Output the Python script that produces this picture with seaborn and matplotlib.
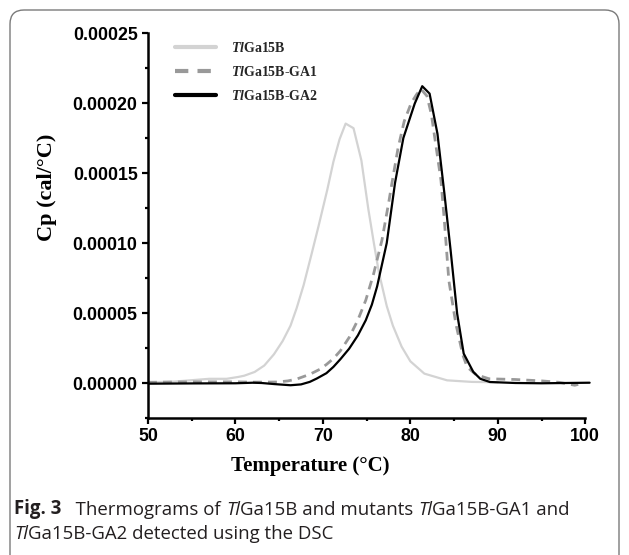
import numpy as np
import pandas as pd
import matplotlib
matplotlib.use("Agg")
import matplotlib.pyplot as plt
import seaborn as sns
from matplotlib.patches import FancyBboxPatch
from matplotlib.transforms import IdentityTransform
from matplotlib.ticker import MultipleLocator, FormatStrFormatter

# ---- data ----
temp_wt = [50, 53, 55, 57, 59, 60.3, 61, 62.2, 63.3, 64.4, 65.4, 66.3, 67.0, 67.8, 68.7, 69.5,
           70.5, 71.2, 71.9, 72.6, 73.5, 74.4, 75.2, 75.8, 76.4, 77.3, 78.0, 79.0, 80.0, 81.6,
           84.2, 87.0, 90.0]
cp_wt = [0.5e-6, 1.0e-6, 2.0e-6, 3.0e-6, 3.0e-6, 4.3e-6, 5.2e-6, 7.9e-6, 12.5e-6, 20.5e-6, 30e-6,
         41e-6, 53.5e-6, 70e-6, 92e-6, 112e-6, 138e-6, 158e-6, 174e-6, 185.3e-6, 182e-6,
         159e-6, 124e-6, 101e-6, 79e-6, 55e-6, 41e-6, 26e-6, 15.5e-6, 6.7e-6, 1.9e-6,
         0.8e-6, 0.5e-6]

temp_ga1 = [50, 55, 60, 62, 64.8, 66, 67, 68.5, 69.65, 70.4, 71.2, 72.0, 73.0, 74.0, 74.9, 75.8,
            76.75, 77.5, 77.9, 78.6, 79.3, 80.1, 80.7, 81.2, 81.9, 82.4, 83.5, 83.9, 84.4, 85.2,
            86.0, 86.5, 87.5, 89.0, 92.0, 95.0, 97.0, 98.8, 99.2]
cp_ga1 = [0.5e-6, 0.8e-6, 0.8e-6, 0.6e-6, 0.7e-6, 1.5e-6, 2.8e-6, 6.2e-6, 9.8e-6, 13.2e-6, 17.4e-6,
          23e-6, 32.5e-6, 45e-6, 59.1e-6, 78e-6, 102e-6, 128e-6, 143e-6, 168e-6, 187e-6, 200e-6,
          206e-6, 210e-6, 205e-6, 192e-6, 144.8e-6, 115e-6, 73.3e-6, 42.4e-6, 20e-6, 11.4e-6,
          6.0e-6, 3.0e-6, 2.5e-6, 1.5e-6, 0.5e-6, -1.6e-6, -1.0e-6]

temp_ga2 = [50, 55, 60, 62, 63, 64.5, 66.3, 67.5, 68.5, 69.3, 70.4, 71.2, 72.0, 73.0, 74.0, 74.9,
            75.6, 76.2, 77.3, 78.25, 79.2, 80.5, 81.36, 82.2, 83.1, 83.9, 84.6, 85.35, 86.1, 87.2,
            88.0, 89.1, 92.0, 95.0, 100.5]
cp_ga2 = [-0.5e-6, -0.3e-6, -0.2e-6, 0.2e-6, 0.0, -0.8e-6, -1.6e-6, -1.0e-6, 0.8e-6, 3.2e-6,
          7.0e-6, 11.5e-6, 17e-6, 24.5e-6, 34e-6, 44.8e-6, 56e-6, 69e-6, 100e-6, 143e-6,
          175e-6, 199.6e-6, 212e-6, 206.7e-6, 178e-6, 135e-6, 95e-6, 49.6e-6, 21e-6, 7.9e-6,
          3.0e-6, 0.7e-6, 0.0, -0.2e-6, 0.2e-6]

series_names = [r"$\mathbfit{Tl}$Ga15B", r"$\mathbfit{Tl}$Ga15B-GA1", r"$\mathbfit{Tl}$Ga15B-GA2"]
x_ticks = [50, 60, 70, 80, 90, 100]
y_ticks = [0.0, 0.00005, 0.00010, 0.00015, 0.00020, 0.00025]

# ---- style ----
sns.set_theme(style="ticks")
plt.rcParams["font.family"] = ["Liberation Sans", "DejaVu Sans"]
plt.rcParams["mathtext.fontset"] = "custom"
plt.rcParams["mathtext.rm"] = "Liberation Serif:bold"
plt.rcParams["mathtext.it"] = "Liberation Serif:italic:bold"
try:
    plt.rcParams["mathtext.bfit"] = "Liberation Serif:italic:bold"
except KeyError:
    pass

fig = plt.figure(figsize=(6.29, 5.55), dpi=100)
fig.patch.set_facecolor("white")

# rounded frame around the figure
frame = FancyBboxPatch((10, -30), 609, 575, boxstyle="round,pad=0,rounding_size=14",
                       transform=IdentityTransform(), facecolor="none",
                       edgecolor="#7a7a7a", linewidth=1.0)
fig.add_artist(frame)

ax = fig.add_axes([148 / 629, 1 - 418 / 555, (594 - 148) / 629, (418 - 33) / 555])
ax.set_facecolor("white")

df_wt = pd.DataFrame({"T": temp_wt, "Cp": cp_wt})
df_g1 = pd.DataFrame({"T": temp_ga1, "Cp": cp_ga1})
df_g2 = pd.DataFrame({"T": temp_ga2, "Cp": cp_ga2})

sns.lineplot(data=df_wt, x="T", y="Cp", ax=ax, color="#d3d3d3", lw=1.6,
             sort=False, estimator=None, label=series_names[0])
sns.lineplot(data=df_g1, x="T", y="Cp", ax=ax, color="#999999", lw=2.0,
             linestyle=(0, (3.2, 2.2)), sort=False, estimator=None, label=series_names[1])
sns.lineplot(data=df_g2, x="T", y="Cp", ax=ax, color="black", lw=1.6,
             sort=False, estimator=None, label=series_names[2])

ax.set_xlim(50, 101)
ax.set_ylim(-0.000025, 0.00025)
ax.set_xticks(x_ticks)
ax.set_yticks(y_ticks)
ax.xaxis.set_minor_locator(MultipleLocator(5))
ax.yaxis.set_minor_locator(MultipleLocator(0.000025))
ax.yaxis.set_major_formatter(FormatStrFormatter("%.5f"))
ax.set_xlabel("")
ax.set_ylabel("")
for side in ["top", "right"]:
    ax.spines[side].set_visible(False)
for side in ["left", "bottom"]:
    ax.spines[side].set_linewidth(1.8)
    ax.spines[side].set_color("black")
ax.spines["bottom"].set_bounds(50, 100)
ax.tick_params(which="major", direction="out", length=4.5, width=1.6, color="black",
               labelsize=12.8, pad=3)
ax.tick_params(which="minor", direction="out", length=2.5, width=1.6, color="black")
for lab in ax.get_xticklabels() + ax.get_yticklabels():
    lab.set_fontweight("bold")
    lab.set_color("black")

leg = ax.legend(loc="upper left", bbox_to_anchor=(162 / 629, 1 - 28 / 555),
                bbox_transform=fig.transFigure, frameon=False,
                prop={"family": "Liberation Serif", "weight": "bold", "size": 10},
                handlelength=3.0, handletextpad=1.1, labelspacing=0.72)
for l in leg.get_lines():
    l.set_linewidth(3.0)

# axis titles
fig.text(310 / 629, 1 - 466 / 555, "Temperature (°C)", ha="center", va="center",
         family="Liberation Serif", weight="bold", fontsize=15, color="black")
fig.text(47 / 629, 1 - 187 / 555, "Cp (cal/°C)", ha="center", va="center", rotation=90,
         family="Liberation Serif", weight="bold", fontsize=16, color="black")

# caption
cap_font = "Open Sans"
cap_size = 13.4
cap_col = "#231f20"

def chain(pieces, x0, y0):
    txt = None
    for s, style, weight, size in pieces:
        kw = dict(fontsize=size, family=cap_font, style=style, weight=weight,
                  color=cap_col, va="baseline", ha="left")
        if txt is None:
            txt = fig.text(x0, y0, s, **kw)
        else:
            txt = ax.annotate(s, xy=(1, 0), xycoords=txt, annotation_clip=False,
                              **dict(kw, va="bottom"))
    return txt

chain([("Fig. 3", "normal", "bold", cap_size),
       ("   Thermograms of ", "normal", "normal", cap_size),
       ("Tl", "italic", "normal", cap_size),
       ("Ga15B and mutants ", "normal", "normal", cap_size),
       ("Tl", "italic", "normal", cap_size),
       ("Ga15B-GA1 and", "normal", "normal", cap_size)], 14 / 629, 1 - 514 / 555)
chain([("Tl", "italic", "normal", cap_size),
       ("Ga15B-GA2 detected using the DSC", "normal", "normal", cap_size)], 14 / 629, 1 - 539 / 555)

fig.savefig("out.png", dpi=100, facecolor="white")
